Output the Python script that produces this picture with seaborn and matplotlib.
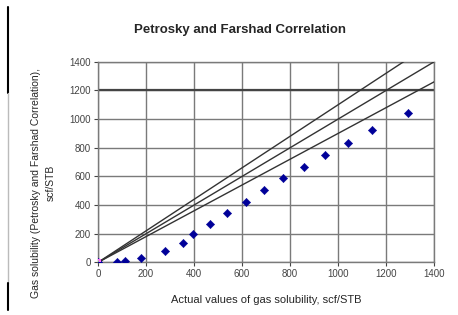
import matplotlib
matplotlib.use("Agg")
import matplotlib.pyplot as plt
import seaborn as sns
from matplotlib.lines import Line2D

# actual vs correlated gas solubility, scf/STB
actual_rs = [0, 78, 113, 178, 280, 356, 397, 466, 539, 615, 692, 772, 857, 945, 1041, 1143, 1291]
calc_rs = [0, 4, 11, 28, 79, 137, 200, 270, 346, 419, 505, 586, 667, 749, 835, 923, 1040]

# reference lines (+10%, 1:1, -10%)
ref_x = [0, 1400]
ref_plus10 = [0, 1540]
ref_equal = [0, 1400]
ref_minus10 = [0, 1260]

ticks = [0, 200, 400, 600, 800, 1000, 1200, 1400]

sns.set_style("white")
plt.rcParams["font.family"] = ["Liberation Sans", "DejaVu Sans"]

fig = plt.figure(figsize=(4.58, 3.15), dpi=100)
ax = fig.add_axes([0.214, 0.167, 0.734, 0.637])

for yv in [ref_plus10, ref_equal, ref_minus10]:
    sns.lineplot(x=ref_x, y=yv, ax=ax, color="#333333", lw=1.0, zorder=3)

sns.scatterplot(x=actual_rs, y=calc_rs, ax=ax, marker="D", s=18, color="#000099",
                edgecolor="#000099", zorder=4)
sns.scatterplot(x=[0], y=[0], ax=ax, marker="s", s=24, color="#ff66ff", edgecolor="none", zorder=5)
sns.scatterplot(x=[0], y=[0], ax=ax, marker="^", s=14, color="#66cc66", edgecolor="none", zorder=6)

ax.set_xlim(0, 1400)
ax.set_ylim(0, 1400)
ax.set_xticks(ticks)
ax.set_yticks(ticks)
ax.grid(True, color="#7a7a7a", lw=1.0)
ax.axhline(1200, color="#444444", lw=1.6, zorder=2)
ax.tick_params(labelsize=7, colors="#444444", length=3, width=0.8, direction="out",
               left=True, bottom=True, pad=2)
for s in ax.spines.values():
    s.set_color("#7a7a7a")
    s.set_linewidth(1.0)

ax.set_xlabel("Actual values of gas solubility, scf/STB", fontsize=8, labelpad=11)
ax.set_ylabel("Gas solubility (Petrosky and Farshad Correlation),\nscf/STB", fontsize=7.5,
              linespacing=1.6)
ax.yaxis.set_label_coords(-0.127, 0.395)
fig.text(0.525, 0.905, "Petrosky and Farshad Correlation", fontsize=9.5, fontweight="bold",
         ha="center", va="center")

# page margin line on the left
fig.add_artist(Line2D([8 / 458, 8 / 458], [1 - 7 / 315, 1 - 93 / 315], color="black", lw=1.5))
fig.add_artist(Line2D([8 / 458, 8 / 458], [1 - 93 / 315, 1 - 283 / 315], color="#bbbbbb", lw=1.0))
fig.add_artist(Line2D([8 / 458, 8 / 458], [1 - 283 / 315, 1 - 310 / 315], color="black", lw=1.5))

fig.savefig("out.png", dpi=100)
